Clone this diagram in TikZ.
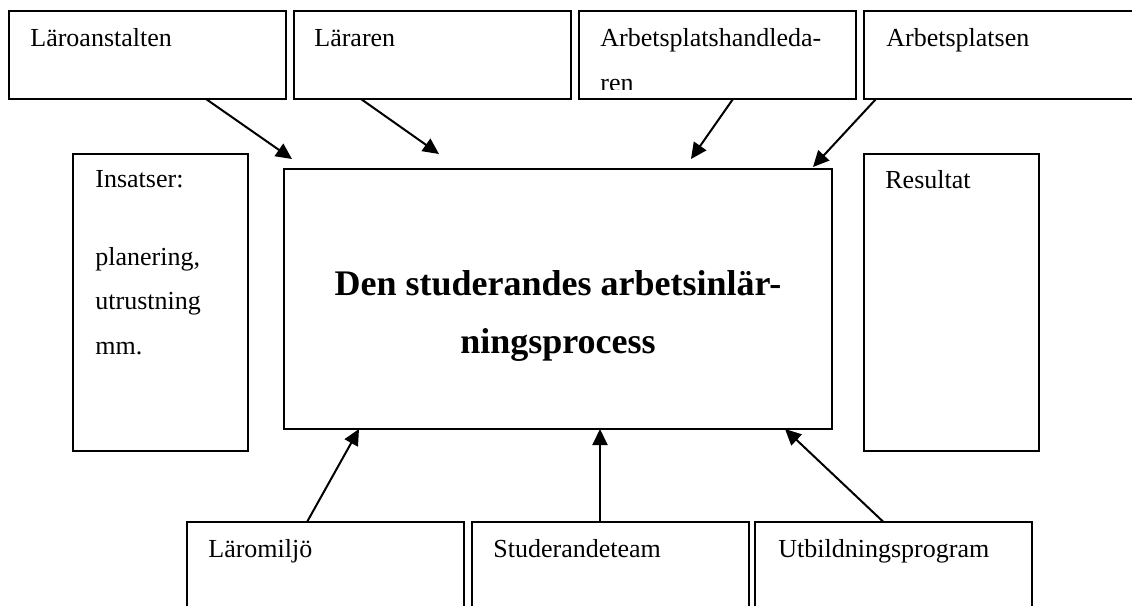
\documentclass[tikz,border=0pt]{standalone}
\usepackage{fontspec}
\setmainfont{Liberation Serif}
\usetikzlibrary{positioning, calc, arrows.meta}

\tikzset{
  box/.style = {draw, line width=1pt, inner sep=0pt, outer sep=0pt,
                minimum width=138.5pt, minimum height=44pt},
  tallbox/.style = {box, minimum width=87.5pt, minimum height=148.5pt},
  lbl/.style = {anchor=base west, inner sep=0pt, align=left,
                font=\fontsize{13}{22.25}\selectfont},
  flow/.style = {-{Triangle[length=8pt,width=7.5pt]}, line width=1pt}
}

\begin{document}
\begin{tikzpicture}[x=0.5pt, y=-0.5pt, node distance=4pt]
\useasboundingbox (0,0) rectangle (1132,606);

% top row
\node (laroanstalten) [box] at (147.5,55) {};
\node (lararen) [box, right = of laroanstalten] {};
\node (handledare) [box, right = of lararen] {};
\node (arbetsplatsen) [box, right = of handledare] {};

% middle
\node (insatser) [tallbox] at (160.5,302.5) {};
\node (process) [box, minimum width=274pt, minimum height=130pt] at (558,299) {};
\node (resultat) [tallbox] at (951,302.5) {};

% bottom row
\node (laromiljo) [box] at (325.5,566) {};
\node (team) [box, right = of laromiljo] {};
\node (program) [box, right = 3pt of team] {};

% texts (base = last line)
\node (tlaro) [lbl] at (30,46) {Läroanstalten};
\node (tlar) [lbl] at (314,46) {Läraren};
\begin{scope}
  \clip (579,11) rectangle (856,89);
  \node (thand) [lbl] at (600,91) {Arbetsplatshandleda-\\ren};
\end{scope}
\node (tarb) [lbl] at (886,46) {Arbetsplatsen};
\node (tins) [lbl] at (95,354) {Insatser:\\[16.75pt]planering,\\utrustning\\mm.};
\node (tres) [lbl] at (885,188) {Resultat};
\node (tproc) [anchor=base, inner sep=0pt, align=center,
  font=\fontsize{18}{29}\selectfont\bfseries] at (558,353)
  {Den studerandes arbetsinlär-\\ningsprocess};
\node (tmil) [lbl] at (208,557) {Läromiljö};
\node (tteam) [lbl] at (493,557) {Studerandeteam};
\node (tprog) [lbl] at (778,557) {Utbildningsprogram};

% arrows
\draw [flow] ($(laroanstalten.south)+(58.5,0)$) -- ($(process.north west)+(8,-10)$);
\draw [flow] ($(lararen.south)+(-71.5,0)$) -- ($(process.north west)+(155,-15)$);
\draw [flow] ($(handledare.south)+(15.5,0)$) -- ($(process.north west)+(407,-10)$);
\draw [flow] ($(arbetsplatsen.south)+(-126.5,0)$) -- ($(process.north east)+(-19,-2)$);
\draw [flow] ($(laromiljo.north)+(-18.5,0)$) -- ($(process.south west)+(75,0)$);
\draw [flow] ($(team.north)+(-10.5,0)$) -- ($(process.south)+(42,0)$);
\draw [flow] ($(program.north)+(-10,0)$) -- ($(process.south east)+(-47,0)$);
\end{tikzpicture}
\end{document}
